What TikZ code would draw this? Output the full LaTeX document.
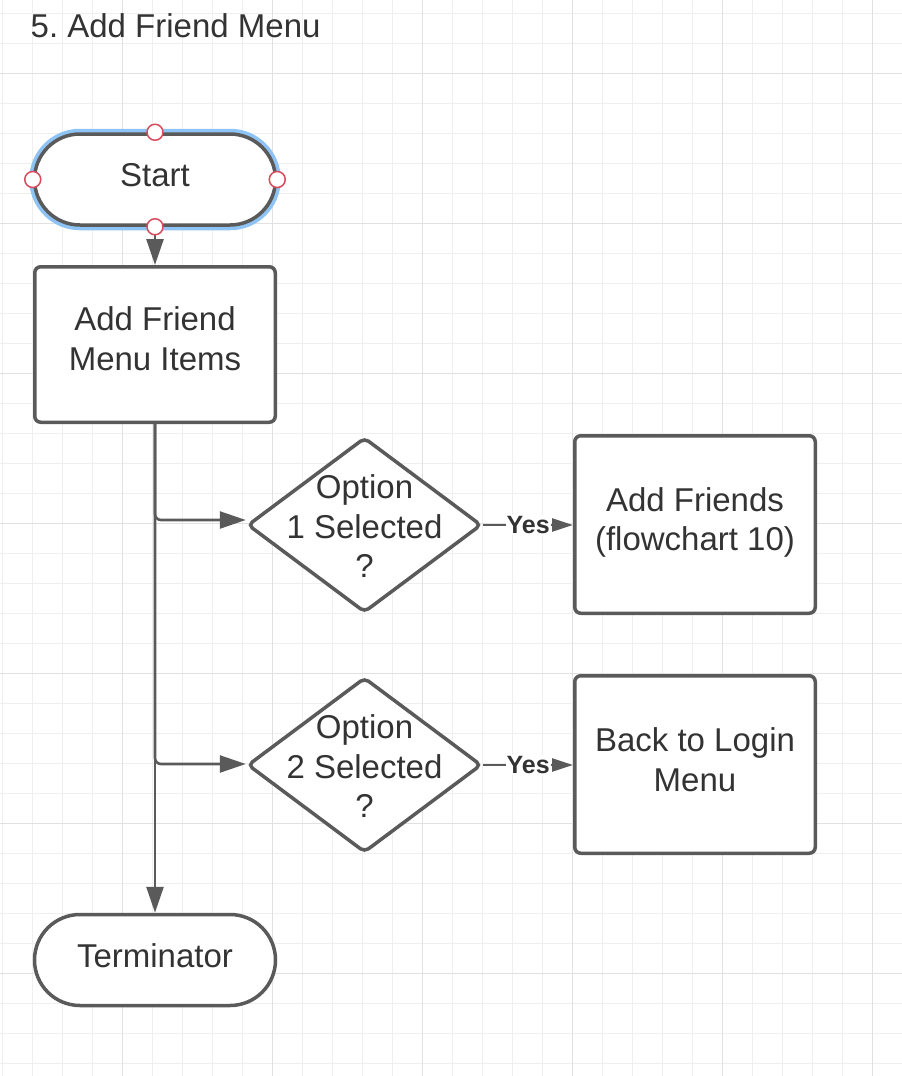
\documentclass[tikz,border=0pt]{standalone}
\usepackage{fontspec}
\setmainfont{Liberation Sans}
\frenchspacing
\usetikzlibrary{shapes.geometric,shapes.misc,arrows.meta,calc}
\definecolor{ln}{HTML}{5A5A5A}
\definecolor{tx}{HTML}{333333}
\definecolor{gmin}{HTML}{EFEFEF}
\definecolor{gmaj}{HTML}{E1E1E1}
\definecolor{glow}{HTML}{8EC3F5}
\definecolor{hdl}{HTML}{DB4B5E}
\tikzset{
  shp/.style={draw=ln, line width=3.5pt, fill=white, inner sep=0pt},
  term/.style={shp, rounded rectangle, minimum width=241pt, minimum height=91pt},
  procbox/.style={shp, rectangle, rounded corners=6pt, minimum width=240.5pt},
  dia/.style={shp, diamond, minimum width=234pt, minimum height=175pt, rounded corners=5pt},
  txt/.style={text=tx, font=\fontsize{33}{39.5}\selectfont, align=center, inner sep=0pt},
  conn/.style={draw=ln, line width=2.6pt, -{Triangle[length=26pt,width=17pt]}},
  yesconn/.style={draw=ln, line width=2.6pt, -{Triangle[length=21pt,width=13pt]}},
  yeslbl/.style={font=\bfseries\fontsize{25}{25}\selectfont, text=tx, fill=white, inner sep=1pt},
  handle/.style={circle, draw=hdl, line width=1.5pt, fill=white, minimum size=16pt, inner sep=0pt},
  gridmin/.style={draw=gmin, line width=1pt},
  gridmaj/.style={draw=gmaj, line width=1pt},
}
\begin{document}
\begin{tikzpicture}[x=1pt,y=-1pt]
\useasboundingbox (0,0) rectangle (902,1076);
\fill[white] (0,0) rectangle (902,1076);
% grid
\foreach \gx in {2,32,...,902} \draw[gridmin] (\gx,0) -- (\gx,1076);
\foreach \gy in {13,43,...,1076} \draw[gridmin] (0,\gy) -- (902,\gy);
\foreach \gx in {122,272,...,902} \draw[gridmaj] (\gx,0) -- (\gx,1076);
\foreach \gy in {73,223,...,1076} \draw[gridmaj] (0,\gy) -- (902,\gy);

% title
\node[txt, anchor=base west] (title) at (30.5,37) {5. Add Friend Menu};

% shapes
\node[term, draw=glow, line width=10.5pt] (startglow) at (155,179.5) {};
\node[term] (start) at (155,179.5) {};
\node[procbox, minimum height=155.5pt] (b1) at (155,344.5) {};
\node[dia] (d1) at (364.5,525) {};
\node[procbox, minimum height=177.5pt] (b2) at (695,524.5) {};
\node[dia] (d2) at (364.5,765) {};
\node[procbox, minimum height=177.5pt] (b3) at (695,764.5) {};
\node[term] (term) at (155,960) {};

% texts
\node[txt] (startt) at (155,175.4) {Start};
\node[txt] (b1t) at (155,338.9) {Add Friend\\Menu Items};
\node[txt] (b2t) at (695,522.7) {Add Friends\\(flowchart 10)};
\node[txt] (b3t) at (695,759.9) {Back to Login\\Menu};
\node[txt] (d1t) at (364.5,526.2) {Option\\1 Selected\\?};
\node[txt] (d2t) at (364.5,766.4) {Option\\2 Selected\\?};
\node[txt] (termt) at (155,955.5) {Terminator};

% connectors
\draw[conn] (start.south) -- (b1.north);
\draw[conn] (b1.south) -- (term.north);
\draw[conn, rounded corners=6pt] (b1.south) |- ([yshift=5pt]d1.west);
\draw[conn, rounded corners=6pt] (b1.south) |- ([yshift=1pt]d2.west);
\draw[yesconn] (d1.east) -- (d1.east -| b2.west) node[yeslbl, midway] (yes1) {Yes};
\draw[yesconn] (d2.east) -- (d2.east -| b3.west) node[yeslbl, midway] (yes2) {Yes};

% selection handles
\node[handle] (hn) at (start.north) {};
\node[handle] (hs) at (start.south) {};
\node[handle] (hw) at (start.west) {};
\node[handle] (he) at (start.east) {};
\end{tikzpicture}
\end{document}
